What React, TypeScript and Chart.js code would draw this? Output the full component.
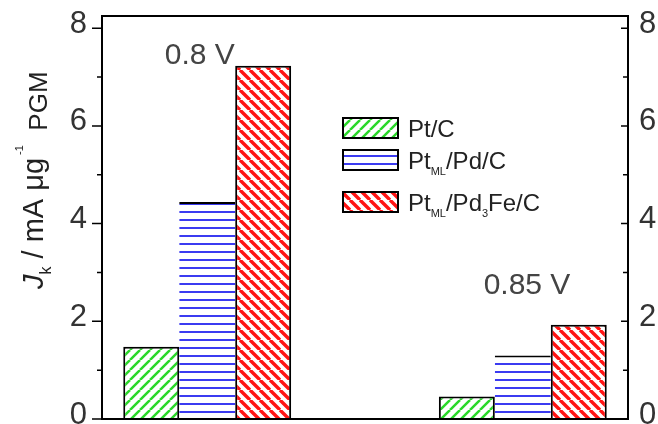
import { useEffect, useRef } from 'react';
import { Chart, registerables } from 'chart.js';

Chart.register(...registerables);

// Potentials at which the kinetic current was compared
const categories = ['0.8 V', '0.85 V'];
// Where each potential group sits on the (hidden) linear x axis
const categoryX = [1, 4];
// Annotation anchor for each group label, in axis units [x, y]
const categoryLabelAt: [number, number][] = [
  [0.93, 7.27],
  [4.04, 2.55],
];

// Catalyst names (_{...} marks a subscript)
const seriesNames = ['Pt/C', 'Pt_{ML}/Pd/C', 'Pt_{ML}/Pd_{3}Fe/C'];

// Mass activity j_k / mA µg⁻¹(PGM)
const ptC = [1.48, 0.46];
const ptMlPdC = [4.44, 1.3];
const ptMlPd3FeC = [7.23, 1.93];

const yMajorTicks = [0, 2, 4, 6, 8];
const yMinorTicks = [1, 3, 5, 7];
const yMax = 8.25;

const FONT = '"Liberation Sans", Arial, Helvetica, sans-serif';

type Part = { t: string; sub?: boolean };

function parseRich(s: string): Part[] {
  const pieces = s.split(/_\{([^}]*)\}/);
  return pieces
    .map((t, i) => ({ t, sub: i % 2 === 1 }))
    .filter((p) => p.t.length > 0);
}

function makePattern(
  ctx: CanvasRenderingContext2D,
  color: string,
  kind: 'fwd' | 'back' | 'horiz',
  size: number,
  lw: number
): CanvasPattern {
  const c = document.createElement('canvas');
  c.width = size;
  c.height = size;
  const g = c.getContext('2d')!;
  g.fillStyle = '#ffffff';
  g.fillRect(0, 0, size, size);
  g.strokeStyle = color;
  g.lineWidth = lw;
  g.beginPath();
  if (kind === 'horiz') {
    g.moveTo(0, size / 2);
    g.lineTo(size, size / 2);
  } else {
    for (const o of [-size, 0, size]) {
      if (kind === 'fwd') {
        g.moveTo(o, size);
        g.lineTo(o + size, 0);
      } else {
        g.moveTo(o, 0);
        g.lineTo(o + size, size);
      }
    }
  }
  g.stroke();
  return ctx.createPattern(c, 'repeat')!;
}

// Plot frame with outward major/minor ticks on the left, inward on the right
const framePlugin = {
  id: 'frame',
  afterDatasetsDraw(chart: any) {
    const { ctx, chartArea: a, scales } = chart;
    const y = scales.y;
    ctx.save();
    ctx.strokeStyle = '#000';
    ctx.lineWidth = 2;
    ctx.strokeRect(a.left, a.top, a.right - a.left, a.bottom - a.top);
    ctx.lineWidth = 1.5;
    ctx.beginPath();
    for (const v of yMajorTicks) {
      const py = y.getPixelForValue(v);
      ctx.moveTo(a.left - 10, py);
      ctx.lineTo(a.left, py);
      ctx.moveTo(a.right - 7, py);
      ctx.lineTo(a.right, py);
    }
    for (const v of yMinorTicks) {
      const py = y.getPixelForValue(v);
      ctx.moveTo(a.left - 5, py);
      ctx.lineTo(a.left, py);
      ctx.moveTo(a.right - 5, py);
      ctx.lineTo(a.right, py);
    }
    ctx.stroke();
    ctx.restore();
  },
};

// Potential labels above each bar group
const groupLabelPlugin = {
  id: 'groupLabels',
  afterDraw(chart: any) {
    const { ctx, scales } = chart;
    ctx.save();
    ctx.font = `30px ${FONT}`;
    ctx.fillStyle = '#444';
    ctx.textAlign = 'center';
    ctx.textBaseline = 'alphabetic';
    categories.forEach((c, i) => {
      const [vx, vy] = categoryLabelAt[i];
      ctx.fillText(c, scales.x.getPixelForValue(vx), scales.y.getPixelForValue(vy));
    });
    ctx.restore();
  },
};

// Rotated y-axis title with sub/superscripts
const yTitlePlugin = {
  id: 'yTitle',
  afterDraw(chart: any) {
    const { ctx } = chart;
    const parts: { t: string; font: string; dy: number }[] = [
      { t: 'J', font: `italic 29px ${FONT}`, dy: 0 },
      { t: 'k', font: `16px ${FONT}`, dy: 8 },
      { t: ' / mA \u03bcg', font: `29px ${FONT}`, dy: 0 },
      { t: ' -1', font: `11px ${FONT}`, dy: -20 },
      { t: '  PGM', font: `26px ${FONT}`, dy: 4 },
    ];
    ctx.save();
    ctx.translate(43, 289);
    ctx.rotate(-Math.PI / 2);
    ctx.fillStyle = '#222';
    ctx.textAlign = 'left';
    ctx.textBaseline = 'alphabetic';
    let x = 0;
    for (const p of parts) {
      ctx.font = p.font;
      ctx.fillText(p.t, x, p.dy);
      x += ctx.measureText(p.t).width;
    }
    ctx.restore();
  },
};

// Legend with hatched swatches and subscripted names
const legendPlugin = {
  id: 'richLegend',
  afterDraw(chart: any) {
    const { ctx } = chart;
    const rowTops = [118, 150, 192];
    const boxX = 343;
    const boxW = 55;
    const boxH = 20;
    const textX = 408;
    ctx.save();
    chart.data.datasets.forEach((ds: any, i: number) => {
      const top = rowTops[i];
      ctx.fillStyle = ds.backgroundColor;
      ctx.fillRect(boxX, top, boxW, boxH);
      ctx.strokeStyle = '#000';
      ctx.lineWidth = 2;
      ctx.strokeRect(boxX, top, boxW, boxH);
      let x = textX;
      const base = top + 19;
      ctx.fillStyle = '#222';
      ctx.textBaseline = 'alphabetic';
      ctx.textAlign = 'left';
      for (const p of parseRich(ds.label)) {
        ctx.font = p.sub ? `11px ${FONT}` : `24px ${FONT}`;
        ctx.fillText(p.t, x, p.sub ? base + 6 : base);
        x += ctx.measureText(p.t).width;
      }
    });
    ctx.restore();
  },
};

export default function App() {
  const ref = useRef<HTMLCanvasElement | null>(null);

  useEffect(() => {
    const canvas = ref.current;
    if (!canvas) return;
    const ctx = canvas.getContext('2d')!;

    const green = makePattern(ctx, '#2ad82a', 'fwd', 10, 2.5);
    const blue = makePattern(ctx, '#0a0aee', 'horiz', 8, 1.6);
    const red = makePattern(ctx, '#ff1414', 'back', 10, 3.4);

    const toPoints = (vals: number[]) => vals.map((v, i) => ({ x: categoryX[i], y: v }));

    const common = {
      borderColor: '#000',
      categoryPercentage: 0.532,
      barPercentage: 1,
    };

    const yAxisCommon = {
      min: 0,
      max: yMax,
      grid: { display: false, drawTicks: false },
      border: { display: false },
      afterBuildTicks: (s: any) => {
        s.ticks = yMajorTicks.map((v) => ({ value: v }));
      },
    };

    const chart = new Chart(canvas, {
      type: 'bar',
      data: {
        datasets: [
          { ...common, label: seriesNames[0], data: toPoints(ptC), backgroundColor: green, borderWidth: 2 },
          {
            ...common,
            label: seriesNames[1],
            data: toPoints(ptMlPdC),
            backgroundColor: blue,
            borderWidth: { top: 2, left: 0, right: 0, bottom: 0 },
          },
          { ...common, label: seriesNames[2], data: toPoints(ptMlPd3FeC), backgroundColor: red, borderWidth: 2 },
        ],
      },
      options: {
        animation: false,
        responsive: false,
        devicePixelRatio: 1,
        layout: { padding: { top: 16, bottom: 5, left: 0, right: 0 } },
        plugins: {
          legend: { display: false },
          tooltip: { enabled: false },
          title: { display: false },
        },
        scales: {
          x: {
            type: 'linear',
            min: 0,
            max: 5,
            display: false,
            offset: false,
            ticks: { stepSize: 5 },
          },
          y: {
            ...yAxisCommon,
            position: 'left',
            afterFit: (s: any) => {
              s.width = 102;
              s.paddingTop = 0;
              s.paddingBottom = 0;
            },
            ticks: {
              padding: 15,
              labelOffset: -4,
              color: '#333',
              font: { family: FONT, size: 31 },
            },
          },
          y2: {
            ...yAxisCommon,
            position: 'right',
            afterFit: (s: any) => {
              s.width = 30;
              s.paddingTop = 0;
              s.paddingBottom = 0;
            },
            ticks: {
              padding: 11,
              labelOffset: -4,
              color: '#333',
              font: { family: FONT, size: 31 },
            },
          },
        },
      } as any,
      plugins: [framePlugin, groupLabelPlugin, yTitlePlugin, legendPlugin],
    });

    return () => chart.destroy();
  }, []);

  return (
    <div style={{ position: 'absolute', left: 0, top: 0, width: 658, height: 424, background: '#fff' }}>
      <canvas ref={ref} width={658} height={424} />
    </div>
  );
}
